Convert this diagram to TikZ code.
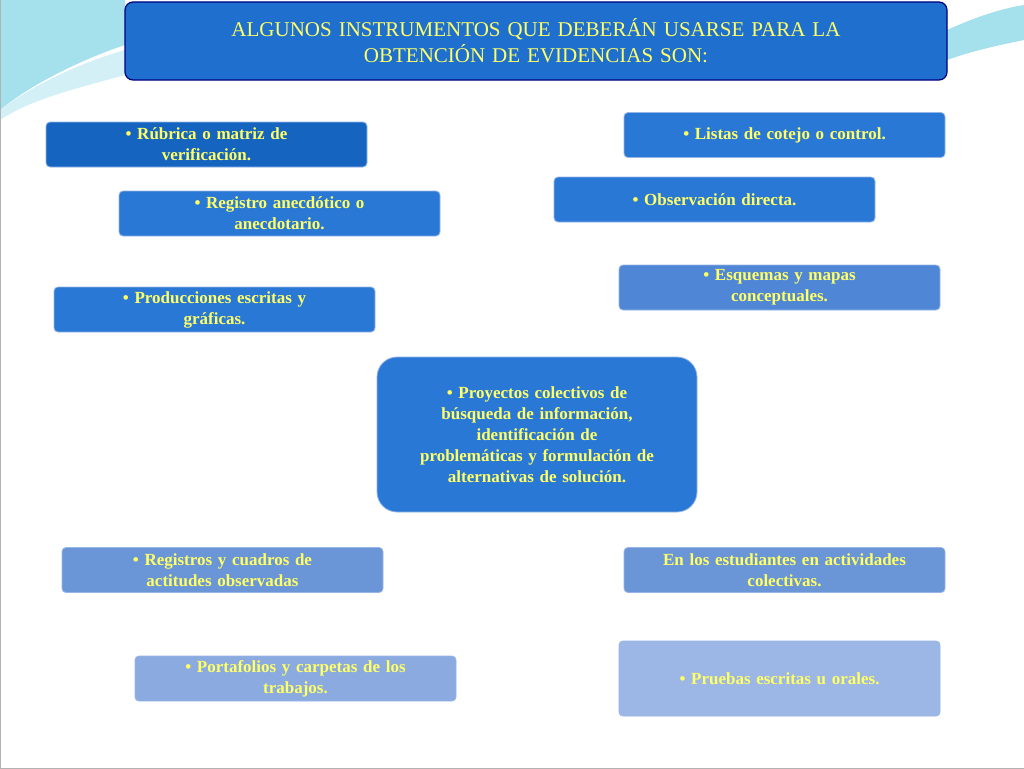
\documentclass[tikz,border=0pt]{standalone}
\usepackage{fontspec}
\setmainfont{Liberation Serif}
\usetikzlibrary{positioning}
\definecolor{titleblue}{HTML}{1F6FCF}
\definecolor{deepblue}{HTML}{1565C0}
\definecolor{midblue}{HTML}{2A78D6}
\definecolor{softblue}{HTML}{4F86D6}
\definecolor{paleblue}{HTML}{6A95D6}
\definecolor{lightblue}{HTML}{8AAAE0}
\definecolor{txtyellow}{HTML}{FFFF66}
\definecolor{swoosh}{HTML}{7FD3E6}
\tikzset{
  item/.style={draw=softblue!60!white, line width=0.8pt, rounded corners=4pt,
    minimum width=321pt, minimum height=45pt, text width=300pt, align=center,
    inner sep=2pt, font=\bfseries\fontsize{17}{21}\selectfont, text=txtyellow},
}
\begin{document}
\begin{tikzpicture}[x=1pt,y=-1pt]
\useasboundingbox (0,0) rectangle (1024,768);
\fill[white] (0,0) rectangle (1024,768);
% swooshes
\fill[swoosh!70] (0,0) -- (125,0) -- (125,45) .. controls (80,60) and (30,85) .. (0,110) -- cycle;
\fill[swoosh!35] (0,110) .. controls (40,80) and (90,60) .. (125,50) -- (125,75) .. controls (70,90) and (30,100) .. (0,120) -- cycle;
\fill[swoosh!70] (947,30) .. controls (980,15) and (1005,8) .. (1024,5) -- (1024,40) .. controls (1000,45) and (975,50) .. (947,60) -- cycle;
\draw[gray!60, line width=1pt] (0,0) rectangle (1024,768);
% title
\node[draw=blue!50!black, line width=1.2pt, fill=titleblue, rounded corners=8pt,
  minimum width=822pt, minimum height=78pt, text width=800pt, align=center,
  font=\fontsize{21}{26}\selectfont, text=txtyellow] (title) at (536,41)
  {ALGUNOS INSTRUMENTOS QUE DEBERÁN USARSE PARA LA\\OBTENCIÓN DE EVIDENCIAS SON:};
% items
\node[item, fill=deepblue] (rubrica) at (206.5,144.5) {• Rúbrica o matriz de\\verificación.};
\node[item, fill=midblue] (listas) at (784.5,135) {• Listas de cotejo o control.};
\node[item, fill=midblue] (registro) at (279.5,213.5) {• Registro anecdótico o\\anecdotario.};
\node[item, fill=midblue] (observ) at (714.5,199.5) {• Observación directa.};
\node[item, fill=softblue] (esquemas) at (779.5,287.5) {• Esquemas y mapas\\conceptuales.};
\node[item, fill=midblue] (produc) at (214.5,309.5) {• Producciones escritas y\\gráficas.};
\node[item, fill=midblue, rounded corners=20pt, minimum width=320pt, minimum height=155pt] (proyectos) at (537,434.5)
  {• Proyectos colectivos de\\búsqueda de información,\\identificación de\\problemáticas y formulación de\\alternativas de solución.};
\node[item, fill=paleblue] (cuadros) at (222.5,570) {• Registros y cuadros de\\actitudes observadas};
\node[item, fill=paleblue] (estud) at (784.5,570) {En los estudiantes en actividades\\colectivas.};
\node[item, fill=lightblue] (portaf) at (295.5,678.5) {• Portafolios y carpetas de los\\trabajos.};
\node[item, fill=lightblue!85!white, minimum height=75pt] (pruebas) at (779.5,678.5) {• Pruebas escritas u orales.};
\end{tikzpicture}
\end{document}
